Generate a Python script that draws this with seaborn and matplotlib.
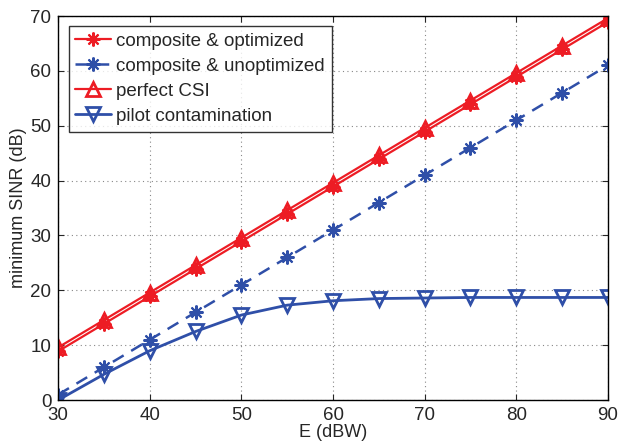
import numpy as np
import pandas as pd
import matplotlib
matplotlib.use("Agg")
import matplotlib.pyplot as plt
import seaborn as sns

E = [30, 35, 40, 45, 50, 55, 60, 65, 70, 75, 80, 85, 90]
composite_opt = [8.9, 13.9, 18.9, 23.9, 28.9, 33.9, 38.9, 43.9, 48.9, 53.9, 58.9, 63.9, 68.9]
composite_unopt = [1.0, 6.0, 11.0, 16.0, 21.0, 26.0, 31.0, 36.0, 41.0, 46.0, 51.0, 56.0, 61.0]
perfect_csi = [9.6, 14.6, 19.6, 24.6, 29.6, 34.6, 39.6, 44.6, 49.6, 54.6, 59.6, 64.6, 69.6]
pilot_cont = [0.0, 4.7, 9.0, 12.5, 15.5, 17.3, 18.1, 18.5, 18.6, 18.7, 18.7, 18.7, 18.7]

red = "#ed1c24"
blue = "#2f4fa8"

sns.set_style("ticks")
plt.rcParams["font.family"] = ["Liberation Sans", "DejaVu Sans"]

fig = plt.figure(figsize=(6.26, 4.45), dpi=100)
ax = fig.add_axes([0.093, 0.101, 0.878, 0.863])

star = (8, 2, 0)
sns.lineplot(x=E, y=composite_opt, ax=ax, color=red, lw=1.6, marker=star,
             markersize=10, markeredgewidth=1.5, markeredgecolor=red,
             label="composite & optimized")
sns.lineplot(x=E, y=composite_unopt, ax=ax, color=blue, lw=1.8, marker=star,
             markersize=10, markeredgewidth=1.5, markeredgecolor=blue,
             linestyle=(0, (5, 3.5)), label="composite & unoptimized")
sns.lineplot(x=E, y=perfect_csi, ax=ax, color=red, lw=1.6, marker="^",
             markersize=10, markeredgewidth=2, markeredgecolor=red,
             markerfacecolor="none", label="perfect CSI")
sns.lineplot(x=E, y=pilot_cont, ax=ax, color=blue, lw=2, marker="v",
             markersize=10, markeredgewidth=2, markeredgecolor=blue,
             markerfacecolor="none", label="pilot contamination")

ax.set_xlim(30, 90)
ax.set_ylim(0, 70)
ax.set_xticks(range(30, 91, 10))
ax.set_yticks(range(0, 71, 10))
ax.grid(True, linestyle=(0, (1, 3)), color="#888888", lw=0.8)
ax.tick_params(direction="in", labelsize=13.5, length=4, top=True, right=True, pad=5)
for s in ax.spines.values():
    s.set_visible(True)
    s.set_linewidth(1.0)
    s.set_color("black")
ax.set_xlabel("E (dBW)", fontsize=13, labelpad=0)
ax.set_ylabel("minimum SINR (dB)", fontsize=13, labelpad=2)

leg = ax.legend(loc="upper left", bbox_to_anchor=(0.0, 1.0), fontsize=13.5,
                frameon=True, fancybox=False, edgecolor="black",
                handlelength=1.9, handletextpad=0.3, borderpad=0.35,
                labelspacing=0.42, borderaxespad=0.55)
leg.get_frame().set_linewidth(1.0)

fig.savefig("out.png", dpi=100)
